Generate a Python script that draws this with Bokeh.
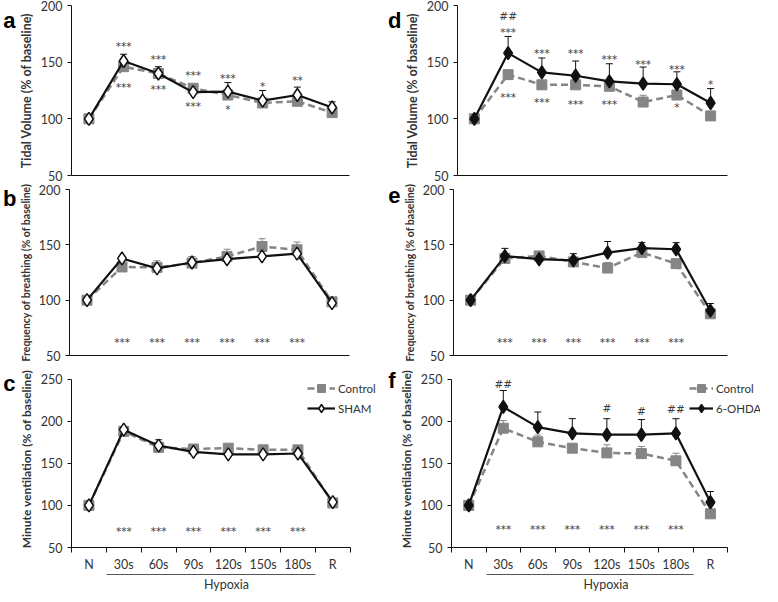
from bokeh.plotting import figure
from bokeh.layouts import column, row
from bokeh.models import (ColumnDataSource, FixedTicker, LinearAxis, Range1d,
                          Whisker, TeeHead, Legend, LegendItem)
from bokeh.embed import file_html
from bokeh.resources import INLINE
from bokeh.core.properties import value

categories = ["N", "30s", "60s", "90s", "120s", "150s", "180s", "R"]
hypoxia_first, hypoxia_last = "30s", "180s"

# ---- panel a: Tidal volume, Control vs SHAM
a_control = [100, 146, 140, 127, 121, 114, 115.5, 105.5]
a_control_err = [1, 3, 3, 2, 2, 2, 2, 2]
a_sham = [100, 151, 140, 123.5, 124, 116, 121, 110]
a_sham_err = [1, 6, 6, 3, 8, 9, 7, 5]
a_ann_cat = ["30s", "60s", "90s", "120s", "150s", "180s", "30s", "60s", "90s", "120s"]
a_ann_y = [167, 155.5, 141, 139, 132, 137, 131, 128.6, 113.6, 111]
a_ann_txt = ["***", "***", "***", "***", "*", "**", "***", "***", "***", "*"]

# ---- panel b: Frequency, Control vs SHAM
b_control = [100, 130, 129.6, 133.5, 139.5, 148.5, 145.5, 98.5]
b_control_err = [1, 3, 6, 6, 6.5, 7, 7, 2]
b_sham = [100, 137.7, 128.7, 134, 137, 139.5, 142, 97.3]
b_sham_err = [1, 2, 2, 2, 2, 2, 2, 2]
b_ann_cat = ["30s", "60s", "90s", "120s", "150s", "180s"]
b_ann_y = [65, 65, 65, 65, 65, 65]
b_ann_txt = ["***"] * 6

# ---- panel c: Minute ventilation, Control vs SHAM
c_control = [100, 188, 169, 167, 168, 166, 166, 103]
c_control_err = [1, 3, 5, 5, 3, 2, 2, 2]
c_sham = [100, 190, 171, 163.7, 160.6, 160.6, 161.7, 104]
c_sham_err = [1, 3, 7, 3, 2, 2, 2, 2]
c_ann_cat = ["30s", "60s", "90s", "120s", "150s", "180s"]
c_ann_y = [72.6] * 6
c_ann_txt = ["***"] * 6

# ---- panel d: Tidal volume, Control vs 6-OHDA
d_control = [100, 139, 130, 130, 128.7, 114.8, 121, 102.6]
d_control_err = [1, 2, 2, 2, 2, 6, 2, 2]
d_ohda = [100, 158, 141, 138, 133, 131, 130.5, 114]
d_ohda_err = [1, 14.7, 12.7, 13, 15.6, 14.7, 11, 12.7]
d_ann_cat = ["30s", "30s", "60s", "90s", "120s", "150s", "180s", "R",
             "30s", "60s", "90s", "120s", "180s"]
d_ann_y = [190.6, 179, 161, 161, 155.7, 151.4, 147, 133.8,
           121.6, 117.6, 116, 116, 113.4]
d_ann_txt = ["##", "***", "***", "***", "***", "***", "***", "*",
             "***", "***", "***", "***", "*"]

# ---- panel e: Frequency, Control vs 6-OHDA
e_control = [100, 137.7, 140, 134.6, 129, 143, 133, 87.7]
e_control_err = [1, 2, 3, 2, 5, 2, 2, 2]
e_ohda = [100, 139.8, 137, 136, 143, 147, 146, 90.5]
e_ohda_err = [1, 7, 3, 6, 10, 5, 6, 6.5]
e_ann_cat = ["30s", "60s", "90s", "120s", "150s", "180s"]
e_ann_y = [64.8] * 6
e_ann_txt = ["***"] * 6

# ---- panel f: Minute ventilation, Control vs 6-OHDA
f_control = [100, 191.7, 175.5, 168, 162.4, 161.6, 153, 90]
f_control_err = [1, 9, 8, 5, 9.6, 8.4, 9, 2]
f_ohda = [100, 217, 193, 185.6, 184, 184, 185.5, 103.8]
f_ohda_err = [1, 19.5, 18, 17.5, 19, 18, 17.5, 12.7]
f_ann_cat = ["30s", "120s", "150s", "180s", "30s", "60s", "90s", "120s", "150s", "180s"]
f_ann_y = [244.5, 216, 211.6, 214, 75, 75, 75, 75, 75, 75]
f_ann_txt = ["##", "#", "#", "##", "***", "***", "***", "***", "***", "***"]

FONT = "Lato"
TXT = "#333333"
GREY = "#858585"
BLACK = "#111111"
LEFT = 64


def xpos(cat):
    return categories.index(cat) + 0.5


def make_panel(letter, letter_pos, ylabel, ylabel_size, y_end, ctrl, ctrl_err,
               trt, trt_err, trt_fill, ann_cat, ann_y, ann_txt, w, axis_w, h,
               top, bottom, right, axis_h, bottom_panel, legend_label=None,
               legend_x=0, glyph_w=28):
    ncat = len(categories)
    frame_w = w - LEFT - right
    frame_h = h - top - bottom
    x_end = ncat * frame_w / axis_w
    y_end_view = 50 + (y_end - 50) * frame_h / axis_h
    p = figure(width=w, height=h,
               x_range=Range1d(0, x_end), y_range=Range1d(50, y_end_view),
               output_backend="svg", toolbar_location=None,
               min_border_left=LEFT, min_border_right=right,
               min_border_top=top, min_border_bottom=bottom)
    p.outline_line_color = None
    p.xgrid.visible = False
    p.ygrid.visible = False

    xs = [xpos(c) for c in categories]

    # y axis
    ya = p.yaxis[0]
    ya.bounds = (50, y_end)
    ya.ticker = FixedTicker(ticks=list(range(50, y_end + 1, 50)), minor_ticks=[])
    ya.axis_label = ylabel
    ya.axis_label_text_font = FONT
    ya.axis_label_text_font_style = "bold"
    ya.axis_label_text_font_size = ylabel_size
    ya.axis_label_text_color = TXT
    ya.axis_label_standoff = 4
    ya.major_label_text_font = FONT
    ya.major_label_text_font_size = "12.5px"
    ya.major_label_text_color = TXT
    ya.major_label_standoff = 5
    ya.major_tick_in = 0
    ya.major_tick_out = 4
    ya.minor_tick_in = 0
    ya.minor_tick_out = 0
    ya.axis_line_color = BLACK
    ya.major_tick_line_color = BLACK

    # panel letter as an outer left axis label
    la = LinearAxis(ticker=FixedTicker(ticks=[letter_pos], minor_ticks=[]),
                    major_label_overrides={letter_pos: letter},
                    major_label_text_font="Liberation Sans",
                    major_label_text_font_style="bold",
                    major_label_text_font_size="22px",
                    major_label_text_color="#000000",
                    major_label_standoff=0,
                    axis_line_color=None, major_tick_line_color=None,
                    major_tick_in=0, major_tick_out=0,
                    minor_tick_in=0, minor_tick_out=0)
    p.add_layout(la, "left")

    # x axis
    xa = p.xaxis[0]
    xa.bounds = (0, ncat)
    xa.axis_line_color = BLACK
    xa.major_tick_in = 0
    xa.major_tick_out = 0
    xa.minor_tick_in = 0
    if bottom_panel:
        xa.ticker = FixedTicker(ticks=xs, minor_ticks=list(range(0, ncat + 1)))
        xa.major_label_overrides = {x: c for x, c in zip(xs, categories)}
        xa.major_label_text_font = FONT
        xa.major_label_text_font_size = "12.5px"
        xa.major_label_text_color = TXT
        xa.major_label_standoff = 4
        xa.minor_tick_out = 5
        xa.minor_tick_line_color = BLACK
        hx = LinearAxis(bounds=(xpos(hypoxia_first) - 0.5, xpos(hypoxia_last) + 0.5),
                        ticker=FixedTicker(ticks=[]), axis_label="Hypoxia",
                        axis_line_color="#555555", axis_label_standoff=2,
                        axis_label_text_font=FONT, axis_label_text_font_size="12.5px",
                        axis_label_text_font_style="normal",
                        axis_label_text_color=TXT,
                        major_tick_in=0, major_tick_out=0,
                        minor_tick_in=0, minor_tick_out=0)
        p.add_layout(hx, "below")
    else:
        xa.ticker = FixedTicker(ticks=[], minor_ticks=[])
        xa.minor_tick_out = 0

    # error bars
    csrc = ColumnDataSource(dict(x=xs, y=ctrl, up=[v + e for v, e in zip(ctrl, ctrl_err)]))
    tsrc = ColumnDataSource(dict(x=xs, y=trt, up=[v + e for v, e in zip(trt, trt_err)]))
    p.add_layout(Whisker(base="x", lower="y", upper="up", source=csrc,
                         line_color=GREY, line_width=1,
                         upper_head=TeeHead(size=7, line_color=GREY, line_width=1),
                         lower_head=None))
    p.add_layout(Whisker(base="x", lower="y", upper="up", source=tsrc,
                         line_color=BLACK, line_width=1,
                         upper_head=TeeHead(size=7, line_color=BLACK, line_width=1),
                         lower_head=None))

    cl = p.line("x", "y", source=csrc, line_color=GREY, line_width=2.5, line_dash="7 4")
    cs = p.scatter("x", "y", source=csrc, marker="square", size=10,
                   fill_color=GREY, line_color=GREY)
    tl = p.line("x", "y", source=tsrc, line_color=BLACK, line_width=2.2)
    ts = p.scatter("x", "y", source=tsrc, marker="diamond", size=13,
                   fill_color=trt_fill, line_color=BLACK, line_width=1.5)

    # significance marks: asterisks sit high in the em box, so shift them down
    for is_hash, dy in ((False, 3), (True, 0)):
        sel = [i for i, t in enumerate(ann_txt) if t.startswith("#") == is_hash]
        if not sel:
            continue
        p.text(x=[xpos(ann_cat[i]) for i in sel], y=[ann_y[i] for i in sel],
               text=[ann_txt[i] for i in sel],
               text_font=value("DejaVu Sans"), text_font_size="10.5px",
               text_color="#3c3c3c", text_align="center", text_baseline="middle",
               y_offset=dy)

    if legend_label:
        leg = Legend(items=[LegendItem(label="Control", renderers=[cl, cs]),
                            LegendItem(label=legend_label, renderers=[tl, ts])],
                     location=(legend_x, frame_h - 55),
                     background_fill_alpha=0, border_line_alpha=0,
                     label_text_font=FONT, label_text_font_size="11.5px",
                     label_text_color=TXT, glyph_width=glyph_w, glyph_height=20,
                     label_height=20, spacing=0, padding=0, margin=0,
                     label_standoff=3)
        p.add_layout(leg)
    return p


LW, LAW = 385, 285   # left figure width, px spanned by the 8 categories
RW, RAW = 377, 278

pa = make_panel("a", 200, "Tidal Volume (% of baseline)", "12.5px", 200, a_control,
                a_control_err, a_sham, a_sham_err, "white", a_ann_cat, a_ann_y,
                a_ann_txt, LW, LAW, 183, 5, 8, LW - LEFT - LAW, 170, False)
pd_ = make_panel("d", 200, "Tidal Volume (% of baseline)", "12.5px", 200, d_control,
                 d_control_err, d_ohda, d_ohda_err, BLACK, d_ann_cat, d_ann_y,
                 d_ann_txt, RW, RAW, 183, 5, 8, RW - LEFT - RAW, 170, False)
pb = make_panel("b", 196, "Frequency of breathing (% of baseline)", "10.5px", 200,
                b_control, b_control_err, b_sham, b_sham_err, "white", b_ann_cat,
                b_ann_y, b_ann_txt, LW, LAW, 180, 6, 8, LW - LEFT - LAW, 166, False)
pe = make_panel("e", 195, "Frequency of breathing (% of baseline)", "10.5px", 200,
                e_control, e_control_err, e_ohda, e_ohda_err, BLACK, e_ann_cat,
                e_ann_y, e_ann_txt, RW, RAW, 180, 6, 8, RW - LEFT - RAW, 166, False)
pc = make_panel("c", 245, "Minute ventilation (% of baseline)", "12px", 250,
                c_control, c_control_err, c_sham, c_sham_err, "white", c_ann_cat,
                c_ann_y, c_ann_txt, LW, LAW, 231, 7, 40, 4, 175, True, "SHAM", 236, 28)
pf = make_panel("f", 248, "Minute ventilation (% of baseline)", "12px", 250,
                f_control, f_control_err, f_ohda, f_ohda_err, BLACK, f_ann_cat,
                f_ann_y, f_ann_txt, RW, RAW, 231, 7, 40, 2, 175, True, "6-OHDA",
                238, 24)

layout = column(row(pa, pd_), row(pb, pe), row(pc, pf))

with open("out.html", "w") as fh:
    fh.write(file_html(layout, INLINE))
